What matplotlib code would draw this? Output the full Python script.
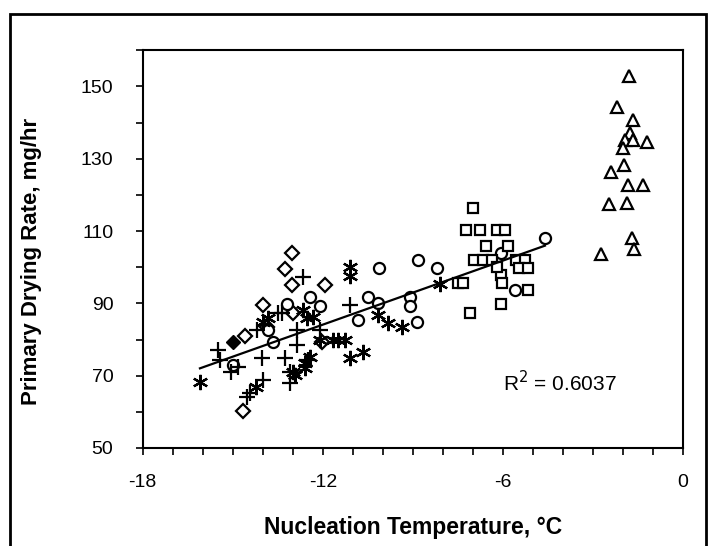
import numpy as np
import matplotlib.pyplot as plt
from matplotlib.patches import Rectangle

plt.rcParams['font.family'] = ['Liberation Sans', 'DejaVu Sans']
plt.rcParams['axes.unicode_minus'] = False

# datos (temperatura de nucleacion, velocidad de secado)
diamante_x = [-13.02, -13.25, -13.02, -11.92, -13.99, -14.59, -14.65, -12.99, -13.85, -12.02]
diamante_y = [103.9, 99.4, 95.0, 95.0, 89.5, 81.0, 60.2, 87.3, 83.4, 79.3]

diamante_lleno_x = [-14.99]
diamante_lleno_y = [79.4]

circulo_x = [-4.60, -10.12, -8.83, -8.19, -9.09, -9.09, -8.86, -10.82, -10.49, -10.16,
             -12.42, -12.09, -13.19, -13.65, -14.99, -13.82, -5.59, -6.07]
circulo_y = [108.0, 99.7, 101.9, 99.7, 91.7, 89.2, 84.8, 85.4, 91.7, 90.1,
             91.7, 89.2, 89.8, 79.3, 72.9, 82.6, 93.6, 103.9]

cuadro_x = [-6.98, -7.22, -6.75, -6.18, -5.92, -6.55, -5.82, -6.95, -6.65, -6.35, -5.58,
            -5.25, -5.48, -5.18, -6.05, -6.02, -5.18, -7.48, -7.32, -6.05, -7.08, -6.19]
cuadro_y = [116.3, 110.2, 110.2, 110.2, 110.2, 105.8, 105.8, 101.9, 101.9, 101.9, 101.9,
            101.9, 99.7, 99.7, 97.8, 95.6, 93.6, 95.6, 95.6, 89.8, 87.3, 100.0]

triangulo_x = [-1.79, -2.21, -1.66, -1.77, -1.93, -1.66, -2.01, -1.21, -1.97, -2.41,
               -1.82, -1.34, -2.46, -1.86, -1.70, -1.63, -2.74]
triangulo_y = [153.0, 144.2, 140.6, 137.0, 135.1, 135.1, 133.1, 134.5, 128.2, 126.2,
               122.7, 122.7, 117.4, 117.7, 108.0, 105.0, 103.6]

cruz_x = [-15.49, -15.42, -14.82, -15.05, -14.02, -13.99, -14.42, -14.52, -13.25, -13.09,
          -12.66, -11.09, -12.49, -13.35, -12.86, -12.86, -12.09, -13.09, -14.19, -13.49]
cruz_y = [77.1, 74.3, 72.5, 71.1, 74.8, 68.8, 65.2, 64.1, 74.9, 68.0,
          97.2, 89.5, 74.3, 87.3, 82.6, 78.5, 82.6, 71.0, 82.6, 87.3]

asterisco_x = [-16.09, -14.22, -13.00, -12.92, -11.09, -11.09, -10.16, -9.82, -9.36, -8.09,
               -11.09, -10.66, -11.26, -11.49, -12.09, -12.59, -12.52, -12.32, -12.66,
               -12.42, -12.59, -13.82, -13.99, -11.66]
asterisco_y = [68.3, 66.9, 71.1, 70.2, 100.0, 97.5, 86.7, 84.5, 83.4, 95.3,
               74.8, 76.5, 79.8, 79.8, 79.8, 72.1, 85.9, 86.2, 88.1,
               75.1, 73.5, 85.9, 84.8, 79.8]

fig = plt.figure(figsize=(7.13, 5.46), dpi=100)
ax = fig.add_axes([0.2, 0.1795, 0.758, 0.7285])

# marco exterior
fig.patches.append(Rectangle((10 / 713, -0.05), 696 / 713, 1.05 - 14 / 546,
                             transform=fig.transFigure, fill=False,
                             edgecolor='black', linewidth=2))

estilo = dict(linestyle='none', color='black', markerfacecolor='white',
              markeredgewidth=1.6)
ax.plot(diamante_x, diamante_y, marker='D', markersize=7, **estilo)
ax.plot(diamante_lleno_x, diamante_lleno_y, marker='D', linestyle='none',
        color='black', markersize=7)
ax.plot(circulo_x, circulo_y, marker='o', markersize=8, **estilo)
ax.plot(cuadro_x, cuadro_y, marker='s', markersize=7.5, **estilo)
ax.plot(triangulo_x, triangulo_y, marker='^', markersize=9, **estilo)
ax.plot(cruz_x, cruz_y, marker='+', linestyle='none', color='black',
        markersize=11, markeredgewidth=1.6)
ax.plot(asterisco_x, asterisco_y, marker=(6, 2, 0), linestyle='none', color='black',
        markersize=11, markeredgewidth=1.6)

# recta de regresion sin los triangulos
todos_x = np.array(diamante_x + diamante_lleno_x + circulo_x + cuadro_x + cruz_x + asterisco_x)
todos_y = np.array(diamante_y + diamante_lleno_y + circulo_y + cuadro_y + cruz_y + asterisco_y)
m, b = np.polyfit(todos_x, todos_y, 1)
xl = np.array([todos_x.min(), todos_x.max()])
ax.plot(xl, m * xl + b, color='black', linewidth=1.6)

ax.text(-6.0, 68.0, 'R$^2$ = 0.6037', fontsize=15, va='center')

ax.set_xlim(-18, 0)
ax.set_ylim(50, 160)
ax.set_xticks([-18, -12, -6, 0])
ax.set_xticks(np.arange(-18, 1, 1), minor=True)
ax.set_yticks([50, 70, 90, 110, 130, 150])
ax.set_yticks(np.arange(50, 161, 10), minor=True)
ax.tick_params(which='both', direction='out', length=5, width=1.2, labelsize=14)
ax.tick_params(axis='x', pad=14)
ax.tick_params(axis='y', pad=16)
for s in ax.spines.values():
    s.set_linewidth(1.5)

ax.set_xlabel('Nucleation Temperature, °C', fontsize=16.5, fontweight='bold', labelpad=18)
ax.set_ylabel('Primary Drying Rate, mg/hr', fontsize=16, fontweight='bold')
ax.yaxis.set_label_coords(-0.187, 0.47)

fig.savefig('out.png', dpi=100)
